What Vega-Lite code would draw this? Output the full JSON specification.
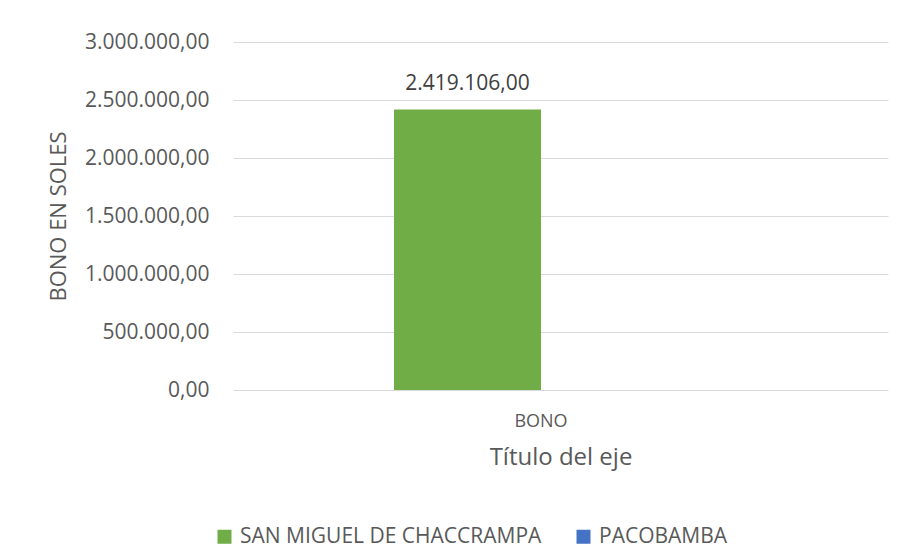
{
  "$schema": "https://vega.github.io/schema/vega-lite/v6.json",
  "autosize": {"type": "none"},
  "width": 655,
  "height": 348,
  "padding": {"left": 233, "top": 42, "right": 22, "bottom": 169},
  "background": "white",
  "config": {
    "locale": {"number": {"decimal": ",", "thousands": ".", "grouping": [3], "currency": ["", ""]}},
    "view": {"stroke": null},
    "font": "Open Sans"
  },
  "data": {
    "values": [
      {"categoria": "BONO", "serie": "SAN MIGUEL DE CHACCRAMPA", "valor": 2419106},
      {"categoria": "BONO", "serie": "PACOBAMBA", "valor": null}
    ]
  },
  "encoding": {
    "x": {
      "field": "categoria", "type": "nominal",
      "scale": {"paddingInner": 0, "paddingOuter": 0.614, "align": 0.446},
      "axis": {"title": "Título del eje", "labelAngle": 0, "labelFontSize": 18, "labelColor": "#595959", "titleFontSize": 24, "titleFontWeight": "normal", "titleColor": "#595959", "ticks": false, "domain": false, "labelPadding": 22, "titlePadding": 15}
    },
    "xOffset": {"field": "serie", "type": "nominal", "sort": ["SAN MIGUEL DE CHACCRAMPA", "PACOBAMBA"], "scale": {"paddingInner": 0, "paddingOuter": 0}}
  },
  "layer": [
    {
      "mark": {"type": "bar"},
      "encoding": {
        "y": {
          "field": "valor", "type": "quantitative",
          "scale": {"domain": [0, 3000000]},
          "axis": {"title": "BONO EN SOLES", "values": [0, 500000, 1000000, 1500000, 2000000, 2500000, 3000000], "format": ",.2f", "labelFontSize": 21, "labelColor": "#595959", "titleFontSize": 22, "titleFontWeight": "normal", "titleColor": "#595959", "ticks": false, "domain": false, "gridColor": "#d9d9d9", "gridWidth": 1, "labelPadding": 24, "titlePadding": 14}
        },
        "color": {
          "field": "serie", "type": "nominal",
          "scale": {"domain": ["SAN MIGUEL DE CHACCRAMPA", "PACOBAMBA"], "range": ["#70ad47", "#4472c4"]},
          "legend": {"title": null, "orient": "none", "direction": "horizontal", "legendX": -19, "legendY": 484, "symbolType": "square", "symbolSize": 196, "symbolStrokeWidth": 0, "labelFontSize": 21, "labelColor": "#595959", "labelLimit": 400, "columnPadding": 31, "labelOffset": 5}
        }
      }
    },
    {
      "transform": [{"filter": "isValid(datum.valor)"}],
      "mark": {"type": "text", "baseline": "alphabetic", "dy": -19, "fontSize": 21, "color": "#404040"},
      "encoding": {
        "y": {"field": "valor", "type": "quantitative"},
        "text": {"field": "valor", "type": "quantitative", "format": ",.2f"}
      }
    }
  ]
}
